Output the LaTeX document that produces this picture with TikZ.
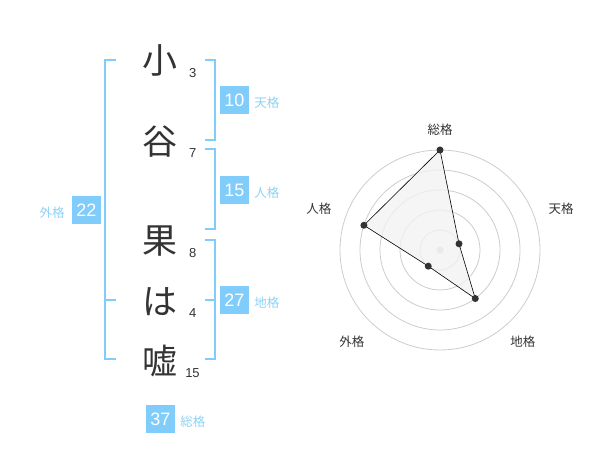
\documentclass[tikz,border=0pt]{standalone}
\usepackage{fontspec}
\setmainfont{Liberation Sans}
\newfontfamily\jpfont{Noto Sans CJK JP}
\usetikzlibrary{positioning}
\definecolor{boxblue}{RGB}{128,204,250}
\definecolor{labelblue}{RGB}{140,210,245}
\definecolor{ink}{RGB}{51,51,51}
\definecolor{ringgray}{RGB}{204,204,204}
\definecolor{areagray}{RGB}{242,242,242}
\tikzset{
	kanji/.style={text=ink, font=\jpfont\fontsize{35}{35}\selectfont, inner sep=0pt},
	strokes/.style={text=ink, font=\fontsize{13}{13}\selectfont, inner sep=0pt},
	scorebox/.style={fill=boxblue, text=white, font=\fontsize{18}{18}\selectfont, minimum width=29pt, minimum height=28.5pt, inner sep=0pt},
	scorelabel/.style={text=labelblue, font=\jpfont\fontsize{12.5}{12.5}\selectfont, inner sep=0pt},
	bracket/.style={draw=boxblue, line width=2pt},
	axislabel/.style={text=ink, font=\jpfont\fontsize{12.5}{12.5}\selectfont, inner sep=0pt}
}
\begin{document}
\begin{tikzpicture}[x=1pt,y=-1pt]
		\useasboundingbox (0,0) rectangle (600,470);
		
		\node [kanji] (k1) at (160,60) {小};
		\node [kanji] (k2) at (160,141.5) {谷};
		\node [kanji] (k3) at (160,241.5) {果};
		\node [kanji] (k4) at (160,301.5) {は};
		\node [kanji] (k5) at (160,361) {嘘};
		
		\node [strokes] (s1) at (192.7,72.7) {3};
		\node [strokes] (s2) at (192.7,152.7) {7};
		\node [strokes] (s3) at (192.7,253.3) {8};
		\node [strokes] (s4) at (192.7,313.3) {4};
		\node [strokes] (s5) at (192.5,372.7) {15};
		
		\draw [bracket] (116,60) -- (105,60) -- (105,359.5) -- (116,359.5);
		\draw [bracket] (105,300) -- (116,300);
		\draw [bracket] (205,60) -- (214.5,60) -- (214.5,140) -- (205,140);
		\draw [bracket] (205,149.5) -- (214.5,149.5) -- (214.5,229.5) -- (205,229.5);
		\draw [bracket] (205,240) -- (214.5,240) -- (214.5,359.5) -- (205,359.5);
		\draw [bracket] (205,300) -- (214.5,300);
		
		\node [scorebox] (ten) at (234.5,100) {10};
		\node [scorelabel, anchor=west, right=5pt of ten, yshift=-3pt] (tenlabel) {\jpfont 天格};
		\node [scorebox] (jin) at (234.5,190) {15};
		\node [scorelabel, anchor=west, right=5pt of jin, yshift=-3pt] (jinlabel) {\jpfont 人格};
		\node [scorebox] (chi) at (234.5,300) {27};
		\node [scorelabel, anchor=west, right=5pt of chi, yshift=-3pt] (chilabel) {\jpfont 地格};
		\node [scorebox] (gai) at (86.5,210) {22};
		\node [scorelabel, anchor=east, left=7pt of gai, yshift=-3pt] (gailabel) {\jpfont 外格};
		\node [scorebox] (sou) at (160.5,419) {37};
		\node [scorelabel, anchor=west, right=5pt of sou, yshift=-3pt] (soulabel) {\jpfont 総格};
		
		\begin{scope}[shift={(440,250)}, y=1pt]
		\draw [ringgray, line width=0.8pt] (0,0) circle (20);
		\draw [ringgray, line width=0.8pt] (0,0) circle (40);
		\draw [ringgray, line width=0.8pt] (0,0) circle (60);
		\draw [ringgray, line width=0.8pt] (0,0) circle (80);
		\draw [ringgray, line width=0.8pt] (0,0) circle (100);
		\fill [ringgray] (0,0) circle (3.5);
		
		\coordinate (psou) at (90:100);
		\coordinate (pten) at (18:20);
		\coordinate (pchi) at (-54:60);
		\coordinate (pgai) at (-126:20);
		\coordinate (pjin) at (162:80);
		\filldraw [fill=areagray, fill opacity=0.8, draw=black, line width=0.6pt] (psou) -- (pten) -- (pchi) -- (pgai) -- (pjin) -- cycle;
		\fill [ink] (psou) circle (3.5);
		\fill [ink] (pten) circle (3.5);
		\fill [ink] (pchi) circle (3.5);
		\fill [ink] (pgai) circle (3.5);
		\fill [ink] (pjin) circle (3.5);
		
		\node [axislabel] (asou) at (90:120) {総格};
		\node [axislabel] (aten) at (19:128) {天格};
		\node [axislabel] (achi) at (-48:124) {地格};
		\node [axislabel] (agai) at (-134:127) {外格};
		\node [axislabel] (ajin) at (161:128) {人格};
		\end{scope}
		\end{tikzpicture}
\end{document}
